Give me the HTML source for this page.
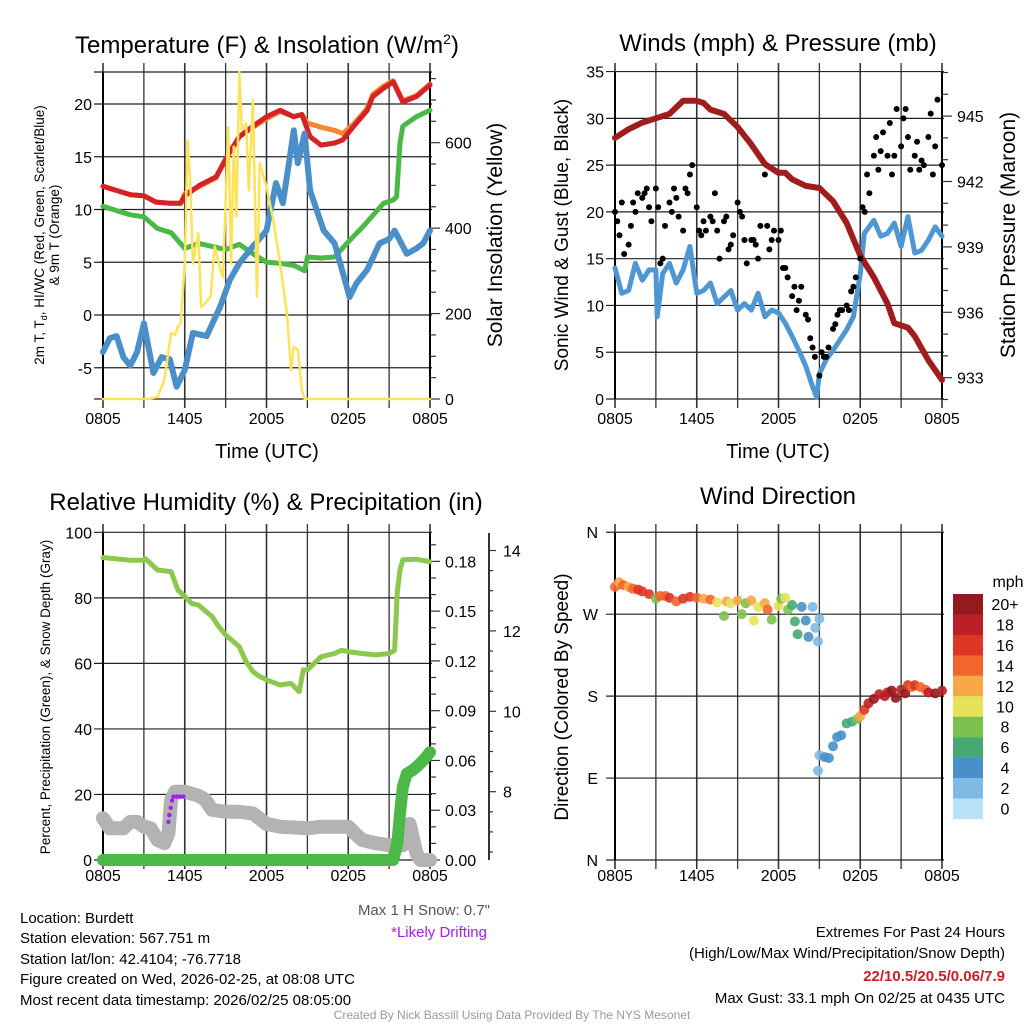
<!DOCTYPE html>
<html><head><meta charset="utf-8">
<style>
body{margin:0;background:#fff;}
svg{display:block;font-family:"Liberation Sans",sans-serif;}
</style></head>
<body>
<svg id="fig" width="1024" height="1024" viewBox="0 0 1024 1024" xmlns="http://www.w3.org/2000/svg">
<rect width="1024" height="1024" fill="#fff"/>
<g id="p1"></g>
<g id="p2"></g>
<g id="p3"></g>
<g id="p4"></g>
<g id="txt" font-size="16">
<text x="267" y="53" font-size="24" text-anchor="middle">Temperature (F) &amp; Insolation (W/m<tspan dy="-9" font-size="14">2</tspan><tspan dy="9">)</tspan></text>
<text x="778" y="51" font-size="24" text-anchor="middle">Winds (mph) &amp; Pressure (mb)</text>
<text x="266" y="510" font-size="24" text-anchor="middle">Relative Humidity (%) &amp; Precipitation (in)</text>
<text x="778" y="504" font-size="24" text-anchor="middle">Wind Direction</text>
<text x="267" y="458" font-size="20" text-anchor="middle">Time (UTC)</text>
<text x="778" y="458" font-size="20" text-anchor="middle">Time (UTC)</text>
<text transform="translate(44,235) rotate(-90)" font-size="13.5" text-anchor="middle">2m T, T<tspan font-size="9" dy="3">d</tspan><tspan dy="-3">, HI/WC (Red, Green, Scarlet/Blue)</tspan></text>
<text transform="translate(59,235) rotate(-90)" font-size="13.5" text-anchor="middle">&amp; 9m T (Orange)</text>
<text transform="translate(502,235) rotate(-90)" font-size="21" text-anchor="middle">Solar Insolation (Yellow)</text>
<text transform="translate(568,235) rotate(-90)" font-size="19" text-anchor="middle">Sonic Wind &amp; Gust (Blue, Black)</text>
<text transform="translate(1015,235) rotate(-90)" font-size="21" text-anchor="middle">Station Pressure (Maroon)</text>
<text transform="translate(50,697) rotate(-90)" font-size="13.5" text-anchor="middle">Percent, Precipitation (Green), &amp; Snow Depth (Gray)</text>
<text transform="translate(568,697) rotate(-90)" font-size="19" text-anchor="middle">Direction (Colored By Speed)</text>
<text x="490" y="915" fill="#555" text-anchor="end" font-size="15">Max 1 H Snow: 0.7"</text>
<text x="487" y="937" fill="#a020f0" text-anchor="end" font-size="15">*Likely Drifting</text>
<text x="20" y="923" font-size="15">Location: Burdett</text>
<text x="20" y="943" font-size="15">Station elevation: 567.751 m</text>
<text x="20" y="964" font-size="15">Station lat/lon: 42.4104; -76.7718</text>
<text x="20" y="984" font-size="15">Figure created on Wed, 2026-02-25, at 08:08 UTC</text>
<text x="20" y="1005" font-size="15">Most recent data timestamp: 2026/02/25 08:05:00</text>
<text x="1005" y="937" text-anchor="end" font-size="15">Extremes For Past 24 Hours</text>
<text x="1005" y="958" text-anchor="end" font-size="15">(High/Low/Max Wind/Precipitation/Snow Depth)</text>
<text x="1005" y="981" text-anchor="end" font-size="15" font-weight="bold" fill="#c62026">22/10.5/20.5/0.06/7.9</text>
<text x="1005" y="1003" text-anchor="end" font-size="15">Max Gust: 33.1 mph On 02/25 at 0435 UTC</text>
<text x="512" y="1019" text-anchor="middle" font-size="12" fill="#999">Created By Nick Bassill Using Data Provided By The NYS Mesonet</text>
</g>
</svg>
<script>
// ---- Temperature panel data (hours since 0805) ----
const redT=[0,1,2,3,3.9,4.9,5.7,6,7.1,8.3,9.1,10,11,12,13,14,14.6,15.2,16,17,17.6,18.4,19.4,19.8,20.6,21.3,22,23,24];
const redV=[12.2,11.8,11.4,11.3,10.7,10.6,10.6,11.3,12.3,13.1,15,16.9,17.9,18.8,19.4,18.8,19,16.9,16.1,16.3,16.6,17.9,19.4,20.7,21.5,22.1,20.2,20.7,21.8];
const orgT=[0,1,2,3,3.9,4.9,5.7,6,7.1,8.3,9.1,10,11,12,13,14,14.6,15,16,17,17.6,18.4,19.4,19.8,20.6,21.3,22,23,24];
const orgV=[12.2,11.8,11.4,11.3,10.7,10.6,10.6,11.5,12.2,13,15,16.9,17.8,18.6,19.3,18.8,19,18.2,17.8,17.5,17.2,18.1,19.6,20.9,21.7,22.2,20.3,20.8,21.9];
const grnT=[0,1,2,3,4,5,6,7,8,9,10,11,12,13,14,14.8,15,16,17,17.9,19.1,20.6,21.3,21.55,21.8,22,23,24];
const grnV=[10.3,9.9,9.5,9.3,8.2,7.8,6.3,6.8,6.5,6.2,6.7,5.8,5.0,4.9,4.7,4.2,5.5,5.4,5.5,6.8,8.4,10.6,10.9,11.2,16.3,17.9,18.8,19.4];
const bluT=[0,0.5,1,1.5,2,2.5,3,3.7,4.3,4.9,5.4,6,6.6,7.6,8.6,9.3,10,11,12,12.7,13.2,14,14.3,14.8,15.2,16.2,17,18.1,18.6,19.4,20.3,21,21.4,22.3,23,23.5,24];
const bluV=[-3.5,-2.2,-2,-4,-4.8,-3.5,-0.8,-5.5,-4,-4.2,-6.8,-5.2,-1.7,-2,0.8,3.3,4.9,6.5,8,12.5,10.6,17.5,14.4,17.2,11.8,8,6.8,1.7,3,4.3,6.8,7.2,8,5.8,6.3,6.8,8];
const solT=[0,3.3,4,4.5,5,5.3,5.5,5.7,6,6.2,6.4,6.6,7,7.2,7.5,7.9,8.2,8.5,8.8,9.2,9.4,9.6,9.8,10,10.2,10.5,10.7,11,11.3,11.5,12,12.5,13,13.5,13.8,14,14.3,14.6,14.8,24];
const solV=[0,0,5,44,154,150,170,177,317,606,513,317,388,216,224,240,357,317,285,636,317,591,427,766,630,645,489,700,240,552,497,419,317,200,68,122,115,21,0,0];
// ---- Winds panel data ----
const presT=[0,1,2,3,4,5,6,6.5,7,8,9,10,11,12,12.5,13,14,15,16,17,18,19,20,20.5,21,21.5,22,23,24];
const presV=[944.0,944.4,944.7,944.9,945.1,945.7,945.7,945.6,945.3,945.1,944.5,943.7,942.8,942.4,942.4,942.1,941.8,941.7,941.1,940.1,938.6,937.6,936.4,935.5,935.4,935.3,934.9,933.8,932.9];
const windT=[0,0.5,1,1.5,2,2.5,3,3.1,3.5,4,4.5,5,5.5,6,6.5,7,7.5,8,8.5,9,9.5,10,10.5,11,11.5,12,12.5,13,13.5,14,14.5,14.8,15,15.5,16,16.5,17,17.5,18,18.3,19,19.5,20,20.5,21,21.5,22,22.5,23,23.5,24];
const windV=[14,11.3,11.6,14.5,12.7,13.8,13.8,8.8,13.4,14.5,12.4,13.8,16.3,11.3,11.6,12.4,10.2,10.9,11.6,9.5,10.2,9.5,11.3,8.8,9.5,9.2,8.1,6.7,5.2,3.5,1.3,0.2,2.7,4.2,5.2,6.3,7.4,8.8,13.4,17.7,19.1,17.4,17.7,18.8,16.3,19.5,15.6,15.9,17,18.4,17.4];
const gustT=[0,0.33,0.67, 1,1.33,1.67, 2,2.33,2.67, 3,3.33,3.67, 4,4.33,4.67, 5,5.33,5.67, 6,6.33,6.67, 7,7.33,7.67, 8,8.33,8.67, 9,9.33,9.67, 10,10.33,10.67, 11,11.33,11.67, 12,12.33,12.67, 13,13.33,13.67, 14,14.33,14.67, 15,15.33,15.67, 16,16.33,16.67, 17,17.33,17.67, 18,18.33,18.67, 19,19.33,19.67, 20,20.33,20.67, 21,21.33,21.67, 22,22.33,22.67, 23,23.33,23.67, 24,
 0.17,0.5, 1.17,1.5, 2.17,2.5, 3.17,3.5, 4.17,4.5, 5.17,5.5, 6.17,6.5, 7.17,7.5, 8.17,8.5, 9.17,9.5, 10.17,10.5, 11.17,11.5, 12.17,12.5, 13.17,13.5, 14.17,14.5, 15.17,15.5, 16.17,16.5, 17.17,17.5, 18.17,18.5, 19.17,19.5, 20.17,20.5, 21.17,21.5, 22.17,22.5, 23.17,23.5];
const gustV=[20,17.5,15.5, 16.5,21,22, 21.5,22.5,19, 22.5,14.5,18.5, 21,22.5,19.5, 18,22,25, 20.5,17.5,18, 19.5,22,15, 19,16,17.5, 21,19.5,14.5, 17,16.5,18.5, 24,16,18, 17,14,13, 11,9.5,12, 9,6.5,4.5, 2.5,4.5,5.5, 7.5,9,9.5, 10,11.5,13, 15,20,22, 26,24.5,28.5, 26,24,31, 27,31,24.5, 26,24.5,25, 28,24,32, 25,
 19,21, 18.5,20, 22,20.5, 20.5,15, 20,21.5, 22.5,24, 18,19, 19,18, 19.5,16.5, 20,17, 17,15, 18.5,17, 18,14, 12,10.5, 8.5,5.5, 5,4.5, 8,9.5, 9.5,12, 20.5,24, 28,26.5, 29.5,26, 30,28, 27.5,25.5, 30.5,27];
// ---- Humidity panel data ----
const rhT=[0,2,3,3.1,4,5,5.5,6,6.5,7,8,8.5,9,10,10.5,11,11.5,12,13,13.8,14.4,14.7,15,16,17,17.5,18,19,20,21,21.4,21.6,21.8,22,23,24];
const rhV=[92.3,91.5,91.5,92,88.5,88,82.4,80.4,78.3,77.8,74.3,71.2,68.7,65.1,60.5,57.5,56,55,53.4,53.9,51.4,58,58,62,63,64,63.6,63,62.6,63,64,82,88.5,91.6,91.8,91];
const snowT=[0,0.5,1.5,2,2.5,3,3.5,4,4.5,4.8,5,5.3,6,7,7.5,8,9,10,11,12,13,15,16,17,18,18.5,19,20,21,22,22.5,23,23.3,24];
const snowV=[7.34,7.09,7.09,7.25,7.25,7.13,7.09,6.8,6.72,6.96,7.8,8,8,7.9,7.8,7.55,7.5,7.5,7.46,7.2,7.13,7.09,7.13,7.13,7.13,6.96,6.8,6.72,6.67,6.67,7.2,6.47,6.3,6.3];
const driftT=[4.8,4.87,4.97,5.07,5.17,5.41,5.66,5.9];
const driftV=[7.25,7.42,7.6,7.78,7.88,7.88,7.88,7.88];
const precT=[0,21.3,21.6,21.8,22,22.3,22.7,23,23.5,24];
const precV=[0,0,0.01,0.028,0.044,0.052,0.054,0.056,0.060,0.065];
// ---- Wind direction data ----
const dirT=[0,0.3,0.6,1,1.3,1.7,2,2.5,3,3.3,3.7,4,4.5,5,5.5,6,6.5,7,7.5,8,8.2,8.5,9,9.3,9.6,10,10.2,10.5,11,11.2,11.5,12,12.2,12.5,12.7,13,13.2,13.4,13.7,14,14.2,14.5,14.7,14.9,15,14.9,15,15.4,15.7,16,16.3,16.6,17,17.4,17.8,18,18.3,18.6,19,19.4,19.8,20,20.3,20.6,21,21.3,21.5,21.8,22,22.4,22.8,23,23.5,24];
const dirV=[300,305,302,300,298,297,295,292,287,290,290,288,284,287,289,288,287,286,283,268,284,282,285,270,282,285,263,278,282,275,264,279,287,288,275,280,262,248,278,263,245,278,255,240,265,98,115,113,112,125,135,137,150,152,155,158,165,172,177,182,180,184,186,178,187,183,192,190,192,190,187,184,183,186];
const dirS=[13,12,14,12,14,15,15,16,8,13,14,15,13,16,16,13,12,14,10,7,12,10,12,7,8,11,9,9,12,14,7,9,8,10,7,5,6,5,4,4,3,2,1,2,1,1,2,4,3,4,4,4,6,6,7,12,15,18,19,18,17,17,21,20,18,19,15,14,16,14,13,17,19,18];
const cbLabels=['20+','18','16','14','12','10','8','6','4','2','0'];
const cbColors=['#931a1d','#bc1f26','#de3527','#f2652b','#f8a746','#e6e25a','#7cc14f','#47a874','#4a90c8','#7ebae3','#b7e2f7'];
const xLabels=['0805','1405','2005','0205','0805'];

const NS='http://www.w3.org/2000/svg';
function mk(parent,tag,attrs,name){
  const el=document.createElementNS(NS,tag);
  for(const k in attrs) el.setAttribute(k,attrs[k]);
  
  
  parent.appendChild(el);return el;
}
function poly(parent,T,V,xf,yf,color,w,name){
  let d='';
  for(let i=0;i<T.length;i++) d+=(i?'L':'M')+xf(T[i]).toFixed(1)+','+yf(V[i]).toFixed(1);
  return mk(parent,'path',{d:d,fill:'none',stroke:color,'stroke-width':w,'stroke-linejoin':'round','stroke-linecap':'round'},name);
}
function txt(parent,x,y,s,anchor,size,name){
  const t=mk(parent,'text',{x:x,y:y,'text-anchor':anchor,'font-size':size},name);t.textContent=s;return t;
}
const HW=327/24;
function frame(g,x0,top,bot,hLines,xLabY){
  const x1=x0+327;
  for(let k=0;k<=8;k++){const x=x0+k*HW*3;
    mk(g,'line',{x1:x,y1:top-9,x2:x,y2:bot+9,stroke:'#333','stroke-width':(k%2?1.3:1.6)},'x-gridline');}
  hLines.forEach(y=>mk(g,'line',{x1:x0-9,y1:y,x2:x1+2,y2:y,stroke:'#222','stroke-width':1.2},'y-gridline'));
  mk(g,'line',{x1:x0,y1:top,x2:x0,y2:bot,stroke:'#000','stroke-width':2},'left-axis');
  mk(g,'line',{x1:x1,y1:top,x2:x1,y2:bot,stroke:'#000','stroke-width':2},'right-axis');
  for(let k=0;k<5;k++) txt(g,x0+k*HW*6,xLabY,xLabels[k],'middle',16,'x-tick-label');
}
// Panel 1
(function(){
  const g=document.getElementById('p1');
  const x=h=>103+h*HW, yT=t=>315-t*10.55, yS=w=>399-w*0.4272;
  const ticks=[-5,0,5,10,15,20];
  frame(g,103,72,399,ticks.map(yT).concat([72,399]),424);
  ticks.forEach(t=>txt(g,92,yT(t)+6,String(t),'end',16,'y-tick-label'));
  for(let w=0;w<=750;w+=50) mk(g,'line',{x1:430,y1:yS(w),x2:w%200?436:440,y2:yS(w),stroke:'#333','stroke-width':1.2},'right-tick');
  [0,200,400,600].forEach(w=>txt(g,445,yS(w)+6,String(w),'start',16,'right-tick-label'));
  poly(g,orgT,orgV,x,yT,'#f6862f',5,'orange-9m-temp-line');
  poly(g,redT,redV,x,yT,'#d42227',5,'red-temp-line');
  poly(g,grnT,grnV,x,yT,'#4cb847',5,'green-dewpoint-line');
  poly(g,bluT,bluV,x,yT,'#4b8fc9',6,'blue-windchill-line');
  poly(g,solT,solV,x,yS,'#fde35b',2.5,'yellow-solar-line');
})();
// Panel 2
(function(){
  const g=document.getElementById('p2');
  const x=h=>615+h*HW, yW=v=>399-v*9.355, yP=p=>377.7-(p-933)*21.8;
  const ticks=[0,5,10,15,20,25,30,35];
  frame(g,615,72,399,ticks.map(yW),424);
  ticks.forEach(t=>txt(g,604,yW(t)+6,String(t),'end',16,'y-tick-label'));
  for(let p=932;p<=947;p++) if(yP(p)>=70&&yP(p)<=400) mk(g,'line',{x1:942,y1:yP(p),x2:p%3?948:952,y2:yP(p),stroke:'#333','stroke-width':1.2},'right-tick');
  [933,936,939,942,945].forEach(p=>txt(g,957,yP(p)+6,String(p),'start',16,'right-tick-label'));
  poly(g,windT,windV,x,yW,'#4f97d3',5,'sonic-wind-line');
  poly(g,presT,presV,x,yP,'#a01d1d',6,'pressure-line');
  for(let i=0;i<gustT.length;i++){
    mk(g,'circle',{cx:x(gustT[i]),cy:yW(gustV[i]),r:3,fill:'#000'},'gust-point');
  }
})();
// Panel 3
(function(){
  const g=document.getElementById('p3');
  const x=h=>103+h*HW, yR=r=>860-r*3.277, yPr=p=>860-p*1659, ySn=s=>791.7-(s-8)*40.2;
  const ticks=[0,20,40,60,80,100];
  frame(g,103,533,860,ticks.map(yR),881);
  ticks.forEach(t=>txt(g,92,yR(t)+6,String(t),'end',16,'y-tick-label'));
  for(let k=0;k<=19;k++){const p=k*0.01;mk(g,'line',{x1:430,y1:yPr(p),x2:k%3?436:440,y2:yPr(p),stroke:'#333','stroke-width':1.2},'precip-tick');}
  for(let k=0;k<=6;k++) txt(g,445,yPr(k*0.03)+6,(k*0.03).toFixed(2),'start',16,'precip-tick-label');
  mk(g,'line',{x1:489,y1:533,x2:489,y2:860,stroke:'#333','stroke-width':2},'snow-axis');
  for(let s=6.5;s<=14.5;s+=0.5){ if(ySn(s)<533||ySn(s)>860) continue; mk(g,'line',{x1:489,y1:ySn(s),x2:s%2===0?496:493,y2:ySn(s),stroke:'#333','stroke-width':1.2},'snow-tick');}
  [8,10,12,14].forEach(s=>txt(g,503,ySn(s)+6,String(s),'start',16,'snow-tick-label'));
  poly(g,snowT,snowV,x,ySn,'#b3b3b3',14,'snow-depth-line');
  for(let i=0;i<driftT.length;i++) mk(g,'circle',{cx:x(driftT[i]),cy:ySn(driftV[i]),r:2.2,fill:'#a020f0'},'drifting-point');
  poly(g,rhT,rhV,x,yR,'#8cc74e',5,'rh-line');
  poly(g,precT,precV,x,yPr,'#4bb847',12,'precip-line');
})();
// Panel 4
(function(){
  const g=document.getElementById('p4');
  const x=h=>615+h*HW, yD=d=>860-d*0.9105;
  const dticks=[0,90,180,270,360], dl=['N','E','S','W','N'];
  frame(g,615,533,860,dticks.map(yD),881);
  dticks.forEach((d,i)=>txt(g,598,yD(d)+6,dl[i],'end',16,'direction-tick-label'));
  for(let i=0;i<dirT.length;i++){
    const ci=Math.max(0,Math.min(10,Math.floor((dirS[i]+1)/2)));
    mk(g,'circle',{cx:x(dirT[i]),cy:yD(dirV[i]),r:5,fill:cbColors[10-ci],'fill-opacity':0.9},'direction-point');
  }
  const cb=mk(g,'g',{},'speed-colorbar');
  for(let k=0;k<11;k++){
    mk(cb,'rect',{x:953,y:594+k*20.45,width:30,height:20.6,fill:cbColors[k]},'colorbar-cell');
    txt(cb,1005,594+k*20.45+16,cbLabels[k],'middle',16,'colorbar-label');
  }
  txt(cb,1008,587,'mph','middle',16,'colorbar-unit');
})();
</script>
</body></html>
